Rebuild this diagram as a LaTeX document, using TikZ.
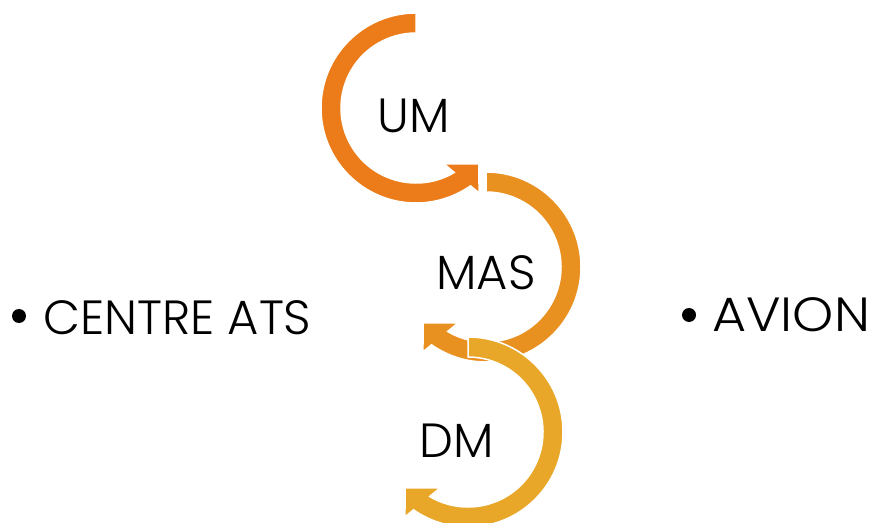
\documentclass[tikz,border=0pt]{standalone}
\usepackage{fontspec}
\IfFontExistsTF{Poppins Light}{\setmainfont{Poppins Light}}{\setmainfont{Poppins}}
\definecolor{arrowone}{RGB}{236,124,26}
\definecolor{arrowtwo}{RGB}{233,145,32}
\definecolor{arrowthree}{RGB}{232,167,40}
\begin{document}
\begin{tikzpicture}[x=1pt,y=1pt]
\useasboundingbox (0,0) rectangle (869,522);
\tikzset{
  pics/cyclearrow/.style={code={
    \path[pic actions]
      (90:95) arc[start angle=90,end angle=305,radius=95]
      -- (306.6:105.8) -- (318.4:84) -- (296.6:62.6)
      -- (300.7:75) arc[start angle=300.7,end angle=90,radius=75] -- cycle;
  }},
  arrowbody/.style={draw=white,line width=1.5pt,line join=miter},
  lbl/.style={font=\fontsize{48}{48}\selectfont,text=black,inner sep=0pt},
  bulletdot/.style={circle,fill=black,inner sep=0pt,minimum size=14pt}
}
% three circular arrows, each one overlapping the previous
\pic[arrowbody,fill=arrowone] at (416,414) {cyclearrow};
\pic[arrowbody,fill=arrowtwo,xscale=-1] at (486,255) {cyclearrow};
\pic[arrowbody,fill=arrowthree,xscale=-1] at (468,90) {cyclearrow};
% labels inside the arrows
\node[lbl,anchor=base] (um) at (414,389) {UM};
\node[lbl,anchor=base] (mas) at (486,232) {MAS};
\node[lbl,anchor=base] (dm) at (457,65) {DM};
% bulleted side labels
\node[bulletdot] (b1) at (19,206) {};
\node[lbl,anchor=base west] (centre) at (43,187) {CENTRE ATS};
\node[bulletdot] (b2) at (689,207) {};
\node[lbl,anchor=base west,xscale=1.09] (avion) at (712,190) {AVION};
\end{tikzpicture}
\end{document}
